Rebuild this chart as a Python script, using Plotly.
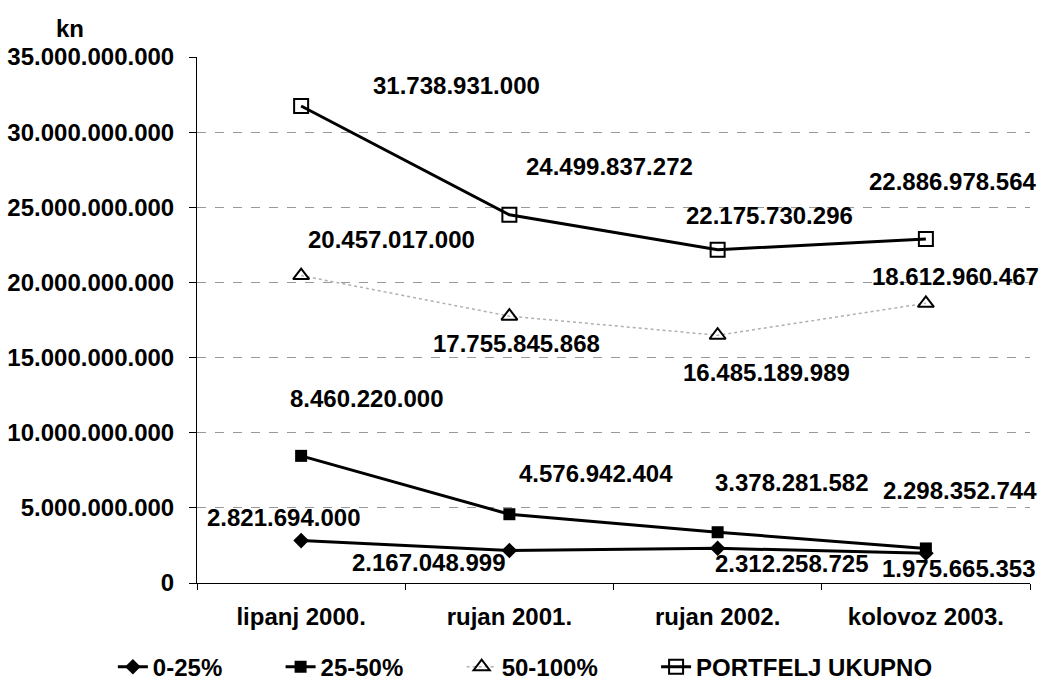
import plotly.graph_objects as go

categories = ["lipanj 2000.", "rujan 2001.", "rujan 2002.", "kolovoz 2003."]
s_0_25 = [2821694000, 2167048999, 2312258725, 1975665353]
s_25_50 = [8460220000, 4576942404, 3378281582, 2298352744]
s_50_100 = [20457017000, 17755845868, 16485189989, 18612960467]
s_total = [31738931000, 24499837272, 22175730296, 22886978564]
y_ticks = [0, 5e9, 10e9, 15e9, 20e9, 25e9, 30e9, 35e9]
series_names = ["0-25%", "25-50%", "50-100%", "PORTFELJ UKUPNO"]

# label pixel offsets (dx, dy) from each point
off_0_25 = [(-18, 23), (-81, -12), (74, -15), (33, -15)]
off_25_50 = [(65, 57), (87, 41), (74, 50), (34, 58)]
off_50_100 = [(90, 36), (7, -27), (49, -37), (30, 27)]
off_total = [(155, 21), (100, 48), (52, 34), (27, 58)]

FONT = "Liberation Sans, Arial, sans-serif"
FS = 24
PAD = "\u00a0" * 8

def fmt(v):
    return f"{v:,}".replace(",", ".")

def ytick(v):
    return "0" if v == 0 else f"{int(v):,}".replace(",", ".")

fig = go.Figure()
fig.add_trace(go.Scatter(x=categories, y=s_0_25, name=f"<b>{series_names[0]}</b>{PAD}", mode="lines+markers",
                         line=dict(color="black", width=3),
                         marker=dict(symbol="diamond", size=12, color="black")))
fig.add_trace(go.Scatter(x=categories, y=s_25_50, name=f"<b>{series_names[1]}</b>{PAD}", mode="lines+markers",
                         line=dict(color="black", width=3),
                         marker=dict(symbol="square", size=12, color="black")))
fig.add_trace(go.Scatter(x=categories, y=s_50_100, name=f"<b>{series_names[2]}</b>{PAD}", mode="lines+markers",
                         line=dict(color="#b0b0b0", width=1.5, dash="dot"),
                         marker=dict(symbol="triangle-up-open", size=14, color="black",
                                     line=dict(width=2, color="black"))))
fig.add_trace(go.Scatter(x=categories, y=s_total, name=f"<b>{series_names[3]}</b>", mode="lines+markers",
                         line=dict(color="black", width=3),
                         marker=dict(symbol="square-open", size=14, color="black",
                                     line=dict(width=2, color="black"))))

annotations = []
for vals, offs in [(s_0_25, off_0_25), (s_25_50, off_25_50), (s_50_100, off_50_100), (s_total, off_total)]:
    for c, v, (dx, dy) in zip(categories, vals, offs):
        annotations.append(dict(x=c, y=v, xref="x", yref="y", text=f"<b>{fmt(v)}</b>", showarrow=False,
                                xshift=dx, yshift=dy, xanchor="center", yanchor="middle",
                                font=dict(family=FONT, size=FS, color="black")))
annotations.append(dict(x=-0.1525, y=1.055, xref="paper", yref="paper", text="<b>kn</b>",
                        showarrow=False, xanchor="center", yanchor="middle",
                        font=dict(family=FONT, size=FS, color="black")))

fig.update_layout(
    width=1041, height=684,
    margin=dict(l=197, r=11, t=57, b=101, autoexpand=False),
    paper_bgcolor="white", plot_bgcolor="white",
    font=dict(family=FONT, size=FS, color="black"),
    showlegend=True,
    legend=dict(orientation="h", x=-0.101, xanchor="left", y=-0.160, yanchor="middle",
                font=dict(family=FONT, size=FS, color="black"), itemwidth=30,
                bgcolor="rgba(0,0,0,0)", traceorder="normal"),
    annotations=annotations,
)
fig.update_xaxes(type="category", range=[-0.5, 3.5], showline=True, linecolor="black", linewidth=1,
                 ticks="outside", tickson="boundaries", ticklen=6, tickcolor="black",
                 showgrid=False, zeroline=False, ticklabelstandoff=12,
                 tickvals=categories, ticktext=[f"<b>{c}</b>" for c in categories],
                 tickfont=dict(family=FONT, size=FS, color="black"))
fig.update_yaxes(range=[0, 35e9], tickvals=y_ticks, ticktext=[f"<b>{ytick(v)}</b>" for v in y_ticks],
                 showline=True, linecolor="black", linewidth=1, ticks="outside", ticklen=7,
                 tickcolor="black", showgrid=True, gridcolor="#999999", griddash="dash", gridwidth=1,
                 zeroline=False, ticklabelstandoff=10, tickfont=dict(family=FONT, size=FS, color="black"))

fig.write_html("out.html", config={"displayModeBar": False},
               post_script="document.body.style.margin='0';")
